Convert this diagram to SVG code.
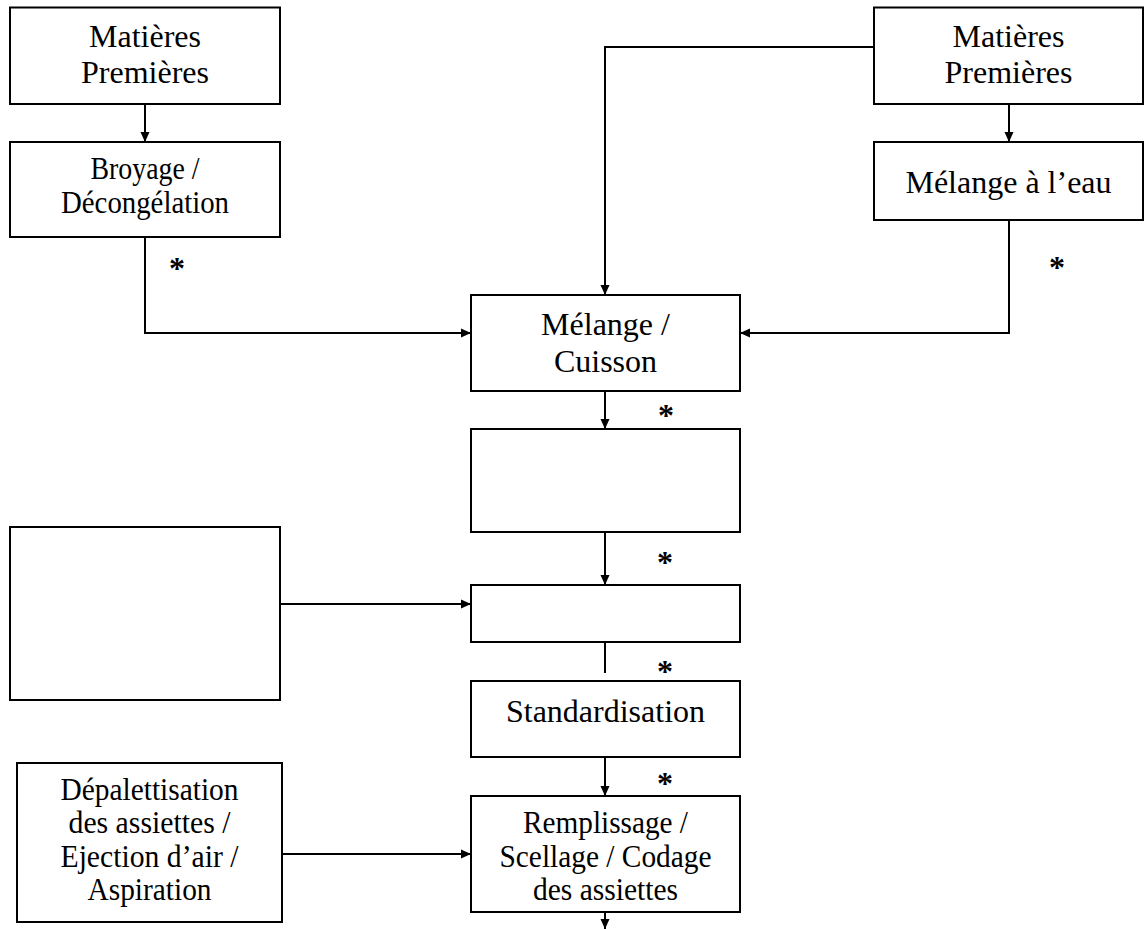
<svg xmlns="http://www.w3.org/2000/svg" width="1144" height="929" viewBox="0 0 1144 929">
  <style>
    .box { fill: #ffffff; stroke: #000000; stroke-width: 2; }
    .lbl { font-family: "Liberation Serif", "Times New Roman", serif; font-size: 32px; fill: #000000; text-anchor: middle; }
    .star { font-family: "Liberation Serif", "Times New Roman", serif; font-size: 32px; font-weight: bold; fill: #000000; text-anchor: middle; }
    .wire { fill: none; stroke: #000000; stroke-width: 2; }
  </style>
  <defs>
    <marker id="arrow" markerUnits="userSpaceOnUse" markerWidth="10" markerHeight="10" refX="10" refY="5" orient="auto">
      <path d="M0,0.5 L10,5 L0,9.5 z" fill="#000000"/>
    </marker>
  </defs>
  <rect width="1144" height="929" fill="#ffffff"/>

  <!-- connectors -->
  <g id="connectors">
    <path class="wire" d="M145,104 V142" marker-end="url(#arrow)"/>
    <path class="wire" d="M145,237 V333 H471" marker-end="url(#arrow)"/>
    <path class="wire" d="M874,47 H605 V295" marker-end="url(#arrow)"/>
    <path class="wire" d="M1009,104 V142" marker-end="url(#arrow)"/>
    <path class="wire" d="M1009,220 V333 H740" marker-end="url(#arrow)"/>
    <path class="wire" d="M605,391 V429" marker-end="url(#arrow)"/>
    <path class="wire" d="M605,525 V585" marker-end="url(#arrow)"/>
    <path class="wire" d="M280,604 H471" marker-end="url(#arrow)"/>
    <path class="wire" d="M605,643 V673"/>
    <path class="wire" d="M605,757 V796" marker-end="url(#arrow)"/>
    <path class="wire" d="M282,854 H471" marker-end="url(#arrow)"/>
    <path class="wire" d="M605,912 V929" marker-end="url(#arrow)"/>
    <text class="star" x="177" y="279">*</text>
    <text class="star" x="1057" y="278">*</text>
    <text class="star" x="666" y="426">*</text>
    <text class="star" x="665" y="573">*</text>
    <text class="star" x="665" y="682">*</text>
    <text class="star" x="665" y="794">*</text>
  </g>

  <g id="matieres-gauche">
    <rect class="box" x="10" y="7.5" width="270" height="96.5"/>
    <text class="lbl" x="145" y="47">Matières</text>
    <text class="lbl" x="145" y="83">Premières</text>
  </g>

  <g id="broyage">
    <rect class="box" x="10" y="142" width="270" height="95"/>
    <text class="lbl" x="145" y="179" textLength="109" lengthAdjust="spacingAndGlyphs">Broyage /</text>
    <text class="lbl" x="145" y="213" textLength="168" lengthAdjust="spacingAndGlyphs">Décongélation</text>
  </g>

  <g id="matieres-droite">
    <rect class="box" x="874" y="7.5" width="269" height="96.5"/>
    <text class="lbl" x="1008.5" y="47">Matières</text>
    <text class="lbl" x="1008.5" y="83">Premières</text>
  </g>

  <g id="melange-eau">
    <rect class="box" x="874" y="142" width="269" height="78"/>
    <text class="lbl" x="1008.5" y="193">Mélange à l’eau</text>
  </g>

  <g id="melange-cuisson">
    <rect class="box" x="471" y="295" width="269" height="96"/>
    <text class="lbl" x="605.5" y="335">Mélange /</text>
    <text class="lbl" x="605.5" y="372">Cuisson</text>
  </g>

  <g id="etape-vide-1">
    <rect class="box" x="471" y="429" width="269" height="103"/>
  </g>

  <g id="entree-vide">
    <rect class="box" x="10" y="527" width="270" height="173"/>
  </g>

  <g id="etape-vide-2">
    <rect class="box" x="471" y="585" width="269" height="57"/>
  </g>

  <g id="standardisation">
    <rect class="box" x="471" y="681" width="269" height="76"/>
    <text class="lbl" x="605.5" y="722">Standardisation</text>
  </g>

  <g id="depalettisation">
    <rect class="box" x="17" y="763" width="265" height="159"/>
    <text class="lbl" x="149.5" y="800" textLength="178" lengthAdjust="spacingAndGlyphs">Dépalettisation</text>
    <text class="lbl" x="149.5" y="833" textLength="162" lengthAdjust="spacingAndGlyphs">des assiettes /</text>
    <text class="lbl" x="149.5" y="867" textLength="178" lengthAdjust="spacingAndGlyphs">Ejection d’air /</text>
    <text class="lbl" x="149.5" y="900" textLength="124" lengthAdjust="spacingAndGlyphs">Aspiration</text>
  </g>

  <g id="remplissage">
    <rect class="box" x="471" y="796" width="269" height="116"/>
    <text class="lbl" x="605.5" y="833" textLength="165" lengthAdjust="spacingAndGlyphs">Remplissage /</text>
    <text class="lbl" x="605.5" y="867" textLength="212" lengthAdjust="spacingAndGlyphs">Scellage / Codage</text>
    <text class="lbl" x="605.5" y="900" textLength="145" lengthAdjust="spacingAndGlyphs">des assiettes</text>
  </g>
</svg>
